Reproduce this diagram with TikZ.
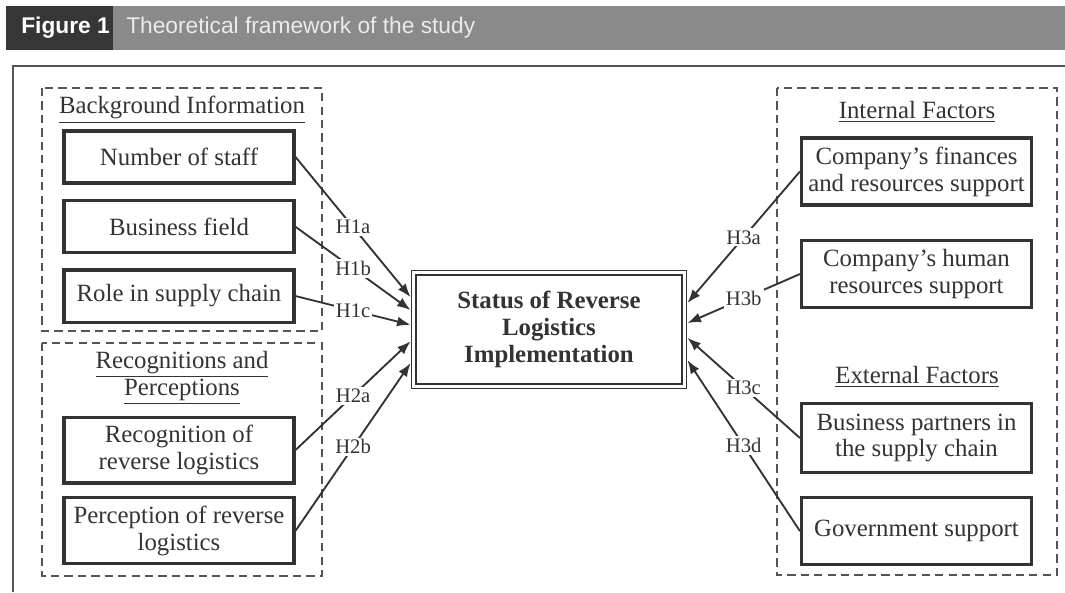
\documentclass[tikz,border=0pt]{standalone}
\usepackage{fontspec}
\setmainfont{Liberation Serif}
\newfontfamily\headfont{Liberation Sans}
\usetikzlibrary{positioning, arrows.meta}
\definecolor{headdark}{HTML}{363636}
\definecolor{headgray}{HTML}{8A8A8A}
\definecolor{inkgray}{HTML}{333333}
\definecolor{dashgray}{HTML}{555555}

\begin{document}
\begin{tikzpicture}[x=0.017cm, y=-0.017cm, font=\fontsize{12}{13}\selectfont, text=inkgray]
        % Define styles
        \tikzstyle{factor} = [rectangle, draw=inkgray, line width=1.5pt, fill=white, minimum width=3.91cm, align=center, inner sep=2pt]
        \tikzstyle{group} = [draw=dashgray, dash pattern=on 4pt off 2.5pt, line width=0.7pt]
        \tikzstyle{hyp} = [draw=inkgray, line width=0.9pt, -{Latex[length=2.3mm, width=1.7mm]}]
        \tikzstyle{hlabel} = [fill=white, inner sep=1pt, font=\fontsize{10}{11}\selectfont]

        \useasboundingbox (0,0) rectangle (1065,592);

        % Header bar and frame
        \fill[headdark] (6,6) rectangle (113,50);
        \fill[headgray] (113,6) rectangle (1065,50);
        \node[anchor=west, text=white, font=\headfont\bfseries\fontsize{11}{13}\selectfont] (fignum) at (14,28) {Figure 1};
        \node[anchor=west, text=white!92!black, font=\headfont\fontsize{11}{13}\selectfont] (figtitle) at (119,28) {Theoretical framework of the study};
        \draw[dashgray, line width=1.2pt] (13,592) -- (13,66) -- (1065,66);

        % Dashed groups
        \draw[group] (42,88) rectangle (322,331);
        \draw[group] (42,343) rectangle (322,576);
        \draw[group] (777,88) rectangle (1057,575);

        % Group titles
        \node (bgtitle) at (182,110) {\underline{Background Information}};
        \node[align=center] (rptitle) at (182,378) {\underline{Recognitions and}\\\underline{Perceptions}};
        \node (inttitle) at (917,112) {\underline{Internal Factors}};
        \node (exttitle) at (917,377) {\underline{External Factors}};

        % Place left nodes
        \node [factor, minimum height=0.884cm] (staff) at (179,157) {Number of staff};
        \node [factor, minimum height=0.884cm, below=0.25cm of staff] (field) {Business field};
        \node [factor, minimum height=0.884cm, below=0.24cm of field] (role) {Role in supply chain};
        \node [factor, minimum height=1.12cm] (recog) at (179,450) {Recognition of\\reverse logistics};
        \node [factor, minimum height=1.12cm, below=0.2cm of recog] (percep) {Perception of reverse\\logistics};

        % Place right nodes
        \node [factor, minimum height=1.14cm] (finance) at (916.5,171.5) {Company's finances\\and resources support};
        \node [factor, minimum height=1.14cm, below=0.55cm of finance] (human) {Company's human\\resources support};
        \node [factor, minimum height=1.16cm] (partner) at (916.5,438) {Business partners in\\the supply chain};
        \node [factor, minimum height=1.14cm, below=0.38cm of partner] (govern) {Government support};

        % Central node
        \node [rectangle, draw=inkgray, line width=0.8pt, double, double distance=1.3pt, fill=white, outer sep=1.5pt, minimum width=4.6cm, minimum height=1.93cm, align=center, font=\bfseries\fontsize{12}{13}\selectfont] (status) at (549,329.5) {Status of Reverse\\Logistics\\Implementation};

        % Hypotheses from the left
        \draw [hyp] (staff.east) -- node[hlabel] {H1a} ([yshift=0.55cm]status.west);
        \draw [hyp] (field.east) -- node[hlabel] {H1b} ([yshift=0.33cm]status.west);
        \draw [hyp] (role.east) -- node[hlabel] {H1c} ([yshift=0.08cm]status.west);
        \draw [hyp] (recog.east) -- node[hlabel] {H2a} ([yshift=-0.2cm]status.west);
        \draw [hyp] (percep.east) -- node[hlabel] {H2b} ([yshift=-0.57cm]status.west);

        % Hypotheses from the right
        \draw [hyp] (finance.west) -- node[hlabel] {H3a} ([yshift=0.45cm]status.east);
        \draw [hyp] (human.west) -- node[hlabel] {H3b} ([yshift=0.11cm]status.east);
        \draw [hyp] (partner.west) -- node[hlabel] {H3c} ([yshift=-0.14cm]status.east);
        \draw [hyp] (govern.west) -- node[hlabel] {H3d} ([yshift=-0.52cm]status.east);

    \end{tikzpicture}
\end{document}
